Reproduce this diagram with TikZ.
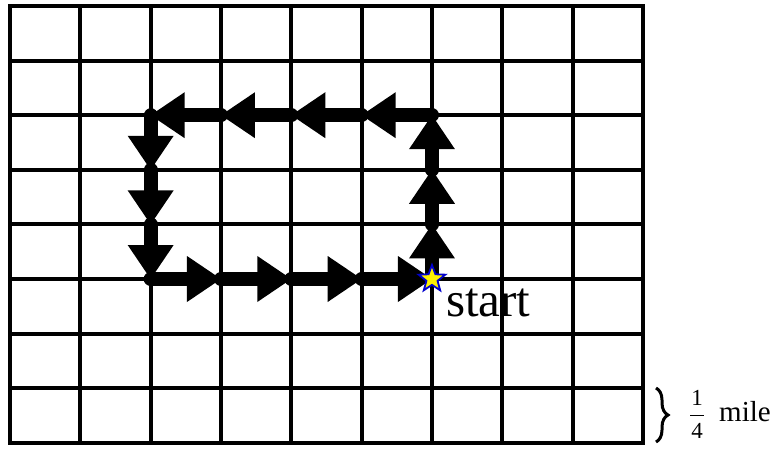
\documentclass[tikz,border=0pt]{standalone}
\usepackage{fontspec}
\setmainfont{Liberation Serif}
\newfontfamily\labelfont{Liberation Serif}
\usetikzlibrary{arrows.meta,shapes.geometric,decorations.pathreplacing}
\tikzset{
  gridline/.style={line width=4pt, line cap=rect},
  moveto/.style={line width=14pt, line cap=round,
    -{Triangle[length=34pt,width=46pt,line width=0pt]}},
  startstar/.style={star, star points=5, star point ratio=2.4,
    minimum size=28pt, inner sep=0pt, fill=yellow, draw=blue!80!black, line width=1.8pt},
}
\begin{document}
\begin{tikzpicture}[x=1pt,y=-1pt]
  \useasboundingbox (0,0) rectangle (776,449);
  % grid points: 9 columns x 8 rows of blocks
  \foreach \i in {0,...,9}
    \foreach \j in {0,...,8}
      \coordinate (g-\i-\j) at ({10+70.33*\i},{6+54.6*\j});
  % street grid
  \foreach \i in {0,...,9}
    \draw[gridline] (g-\i-0) -- (g-\i-8);
  \foreach \j in {0,...,8}
    \draw[gridline] (g-0-\j) -- (g-9-\j);
  % route: east along the bottom
  \draw[moveto] (g-2-5) -- (g-3-5);
  \draw[moveto] (g-3-5) -- (g-4-5);
  \draw[moveto] (g-4-5) -- (g-5-5);
  \draw[moveto] (g-5-5) -- (g-6-5);
  % north
  \draw[moveto] (g-6-5) -- (g-6-4);
  \draw[moveto] (g-6-4) -- (g-6-3);
  \draw[moveto] (g-6-3) -- (g-6-2);
  % west along the top
  \draw[moveto] (g-6-2) -- (g-5-2);
  \draw[moveto] (g-5-2) -- (g-4-2);
  \draw[moveto] (g-4-2) -- (g-3-2);
  \draw[moveto] (g-3-2) -- (g-2-2);
  % south
  \draw[moveto] (g-2-2) -- (g-2-3);
  \draw[moveto] (g-2-3) -- (g-2-4);
  \draw[moveto] (g-2-4) -- (g-2-5);
  % starting point
  \node[startstar] (star) at (g-6-5) {};
  \node[anchor=base west, inner sep=0pt, font=\labelfont\fontsize{49}{49}\selectfont] (startlbl) at (446,316) {start};
  % scale: one block
  \coordinate (bt) at (656,388);
  \coordinate (bb) at (656,442);
  \draw[decorate, decoration={brace,amplitude=12pt,raise=0pt}, line width=3pt] (bt) -- (bb);
  \node[inner sep=0pt, font=\labelfont\fontsize{23}{23}\selectfont] (num) at (697,398) {1};
  \node[inner sep=0pt, font=\labelfont\fontsize{23}{23}\selectfont] (den) at (697,431) {4};
  \coordinate (barl) at (690,415);
  \coordinate (barr) at (704,415);
  \draw[line width=1pt] (barl) -- (barr);
  \node[anchor=base west, inner sep=0pt, font=\labelfont\fontsize{29}{29}\selectfont] (mile) at (719,421) {mile};
\end{tikzpicture}
\end{document}
